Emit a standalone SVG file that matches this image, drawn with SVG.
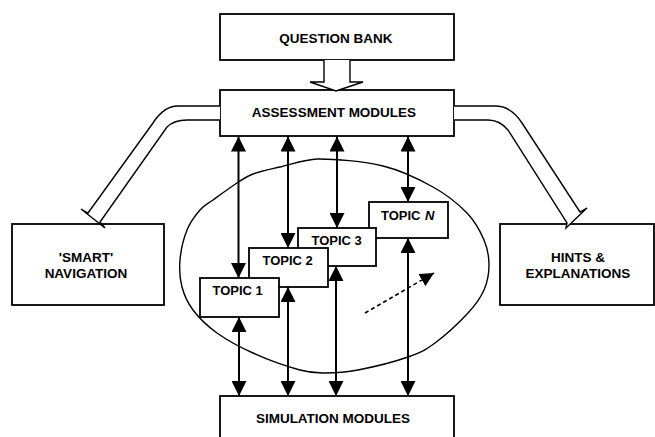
<svg xmlns="http://www.w3.org/2000/svg" width="655" height="437" viewBox="0 0 655 437">
<style>
.box{fill:#fff;stroke:#000;stroke-width:1.8}
.t{font-family:"Liberation Sans",Arial,sans-serif;font-weight:bold;font-size:13.5px;fill:#000;text-anchor:middle}
.tp{font-family:"Liberation Sans",Arial,sans-serif;font-weight:bold;font-size:13px;fill:#000}
.hol{fill:#fff;stroke:#000;stroke-width:1.4;stroke-linejoin:miter}
.dbl{stroke:#000;stroke-width:2;fill:none;marker-start:url(#ah);marker-end:url(#ah)}
</style>
<defs>
<marker id="ah" markerUnits="userSpaceOnUse" markerWidth="15" markerHeight="15" refX="15" refY="7.5" orient="auto-start-reverse">
<path d="M0,0 L15,7.5 L0,15 Z" fill="#000"/>
</marker>
<marker id="ah2" markerUnits="userSpaceOnUse" markerWidth="14" markerHeight="14" refX="14" refY="7" orient="auto">
<path d="M0,0 L14,7 L0,14 Z" fill="#000"/>
</marker>
</defs>

<g id="topic-cloud">
<path d="M317,159 C334.2,158.8 363.7,161.3 383,166 C402.3,170.7 419,179.2 433,187 C447,194.8 458.5,204.2 467,213 C475.5,221.8 480.3,231.3 484,240 C487.7,248.7 489,256.7 489,265 C489,273.3 487.5,282 484,290 C480.5,298 476.2,304.2 468,313 C459.8,321.8 445,335.7 435,343 C425,350.3 420.8,352.5 408,357 C395.2,361.5 371.8,367.3 358,370 C344.2,372.7 334.7,373 325,373 C315.3,373 312,373.3 300,370 C288,366.7 266.8,359.2 253,353 C239.2,346.8 227,340.2 217,333 C207,325.8 198.8,317.7 193,310 C187.2,302.3 184.2,295.3 182,287 C179.8,278.7 179.2,269.5 180,260 C180.8,250.5 183.7,238.3 187,230 C190.3,221.7 195.7,215 200,210 C204.3,205 206.8,204.5 213,200 C219.2,195.5 230.3,187.3 237,183 C243.7,178.7 245.8,176.7 253,174 C260.2,171.3 269.3,169.5 280,167 C290.7,164.5 306.3,159.2 317,159 Z" fill="none" stroke="#000" stroke-width="1.4"/>
</g>

<g id="question-bank">
<rect class="box" x="220" y="14" width="234" height="46"/>
<text class="t" x="336" y="43">QUESTION BANK</text>
</g>

<g id="assessment-modules">
<rect class="box" x="220" y="90" width="234" height="46"/>
<text class="t" x="334" y="117">ASSESSMENT MODULES</text>
</g>

<g id="simulation-modules">
<rect class="box" x="220" y="396" width="234" height="50"/>
<text class="t" x="333" y="423">SIMULATION MODULES</text>
</g>

<g id="smart-navigation">
<rect class="box" x="12" y="224" width="152" height="81"/>
<text class="t" x="86" y="261.5">'SMART'</text>
<text class="t" x="86" y="277.5">NAVIGATION</text>
</g>

<g id="hints-explanations">
<rect class="box" x="500" y="224" width="154" height="81"/>
<text class="t" x="578" y="261.5">HINTS &amp;</text>
<text class="t" x="578" y="277.5">EXPLANATIONS</text>
</g>

<g id="topic-n">
<rect class="box" x="369" y="202" width="79" height="36"/>
<text class="tp" x="381" y="219.5">TOPIC</text>
<text class="tp" x="425" y="219.5" font-style="italic">N</text>
</g>

<g id="topic-3">
<rect class="box" x="298" y="228" width="78" height="38"/>
<text class="tp" x="311.5" y="245">TOPIC 3</text>
</g>

<g id="topic-2">
<rect class="box" x="249" y="248" width="79" height="39"/>
<text class="tp" x="262.5" y="265">TOPIC 2</text>
</g>

<g id="topic-1">
<rect class="box" x="200" y="278" width="79" height="39"/>
<text class="tp" x="212.5" y="295">TOPIC 1</text>
</g>

<g id="connectors">
<path class="hol" d="M324,60 L324,82 L310,82 L336,91 L363,82 L350,82 L350,60"/>
<path class="hol" d="M220,106 L178,106 C168,106 160,112 153,123 L88,213 L81,209 L105,228 L100,222 L167,127 C172,122 178,120 187,120 L220,120"/>
<path class="hol" d="M454,106 L495,106 C505,106 515,112 522,123 L580,212 L587,208 L566,228 L567,223 L508,130 C503,124 497,120 488,120 L454,120"/>

<line class="dbl" x1="238.5" y1="136.5" x2="238.5" y2="278"/>
<line class="dbl" x1="288" y1="136.5" x2="288" y2="248"/>
<line class="dbl" x1="337" y1="136.5" x2="337" y2="228"/>
<line class="dbl" x1="408" y1="136.5" x2="408" y2="202"/>

<line class="dbl" x1="239" y1="317" x2="239" y2="396"/>
<line class="dbl" x1="288" y1="287" x2="288" y2="396"/>
<line class="dbl" x1="336" y1="266" x2="336" y2="396"/>
<line class="dbl" x1="408" y1="238" x2="408" y2="396"/>

<line x1="365" y1="313" x2="434" y2="273" stroke="#000" stroke-width="1.6" stroke-dasharray="4,3" marker-end="url(#ah2)"/>
</g>
</svg>
